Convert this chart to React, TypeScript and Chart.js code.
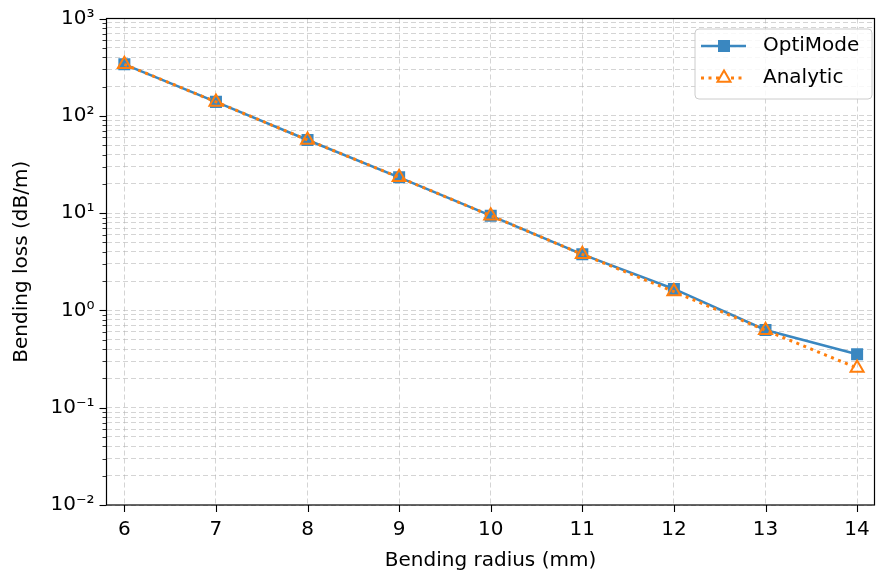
import React, { useEffect, useRef } from "react";
import { Chart, registerables } from "chart.js";

Chart.register(...registerables);

const radii = [6, 7, 8, 9, 10, 11, 12, 13, 14];
const optiModeLoss = [338, 139, 56.4, 23.3, 9.4, 3.77, 1.66, 0.629, 0.354];
const analyticLoss = [338, 139, 56.4, 23.3, 9.4, 3.77, 1.56, 0.625, 0.256];
const xTicks = [6, 7, 8, 9, 10, 11, 12, 13, 14];
const yExponents = [-2, -1, 0, 1, 2, 3];
const yMinorMultipliers = [2, 3, 4, 5, 6, 7, 8, 9];
const supMap: Record<string, string> = {
  "-": "\u207B", "0": "\u2070", "1": "\u00B9", "2": "\u00B2", "3": "\u00B3",
};
const FONT = "'DejaVu Sans', sans-serif";
const FS = 20;
const BLUE = "#3a87c0";
const ORANGE = "#ff7f0e";
const DOT = [3, 4.5];

function supLabel(exp: number): string {
  return "10" + String(exp).split("").map((c) => supMap[c] || c).join("");
}

function isPow10(v: number): number | null {
  const e = Math.round(Math.log10(v));
  return Math.abs(v - Math.pow(10, e)) < Math.pow(10, e) * 1e-6 ? e : null;
}

const decorPlugin = {
  id: "decor",
  afterDraw(chart: any) {
    const ctx = chart.ctx;
    const { left, right, top, bottom } = chart.chartArea;
    const xs = chart.scales.x;
    const ys = chart.scales.y;
    ctx.save();
    ctx.strokeStyle = "#000";
    ys.ticks.forEach((t: any) => {
      const major = isPow10(t.value) !== null;
      const py = Math.round(ys.getPixelForValue(t.value)) + 0.5;
      ctx.lineWidth = major ? 1.1 : 0.8;
      ctx.beginPath();
      ctx.moveTo(left, py);
      ctx.lineTo(left - (major ? 7 : 4), py);
      ctx.stroke();
    });
    xs.ticks.forEach((t: any) => {
      const px = Math.round(xs.getPixelForValue(t.value)) + 0.5;
      ctx.lineWidth = 1.1;
      ctx.beginPath();
      ctx.moveTo(px, bottom);
      ctx.lineTo(px, bottom + 7);
      ctx.stroke();
    });
    ctx.lineWidth = 1.2;
    ctx.strokeRect(left, top, right - left, bottom - top);

    // legend
    const bx = 695, by = 29, bw = 177, bh = 70, r = 4;
    ctx.beginPath();
    ctx.moveTo(bx + r, by);
    ctx.lineTo(bx + bw - r, by);
    ctx.quadraticCurveTo(bx + bw, by, bx + bw, by + r);
    ctx.lineTo(bx + bw, by + bh - r);
    ctx.quadraticCurveTo(bx + bw, by + bh, bx + bw - r, by + bh);
    ctx.lineTo(bx + r, by + bh);
    ctx.quadraticCurveTo(bx, by + bh, bx, by + bh - r);
    ctx.lineTo(bx, by + r);
    ctx.quadraticCurveTo(bx, by, bx + r, by);
    ctx.closePath();
    ctx.fillStyle = "rgba(255,255,255,0.85)";
    ctx.fill();
    ctx.strokeStyle = "#cccccc";
    ctx.lineWidth = 1;
    ctx.stroke();

    const y1 = 46, y2 = 78;
    ctx.strokeStyle = BLUE;
    ctx.lineWidth = 2.5;
    ctx.setLineDash([]);
    ctx.beginPath();
    ctx.moveTo(701, y1);
    ctx.lineTo(746, y1);
    ctx.stroke();
    ctx.fillStyle = BLUE;
    ctx.fillRect(724 - 6, y1 - 6, 12, 12);
    ctx.strokeStyle = ORANGE;
    ctx.lineWidth = 3;
    ctx.setLineDash(DOT);
    ctx.beginPath();
    ctx.moveTo(701, y2);
    ctx.lineTo(746, y2);
    ctx.stroke();
    ctx.setLineDash([]);
    ctx.fillStyle = "#fff";
    ctx.beginPath();
    const rr = 7.5;
    ctx.moveTo(724, y2 - rr);
    ctx.lineTo(724 + rr * 0.866, y2 + rr / 2);
    ctx.lineTo(724 - rr * 0.866, y2 + rr / 2);
    ctx.closePath();
    ctx.fill();
    ctx.lineWidth = 2;
    ctx.stroke();

    ctx.fillStyle = "#000";
    ctx.font = `${FS}px ${FONT}`;
    ctx.textBaseline = "middle";
    ctx.textAlign = "left";
    ctx.fillText("OptiMode", 763, y1);
    ctx.fillText("Analytic", 763, y2);
    ctx.restore();
  },
};

export default function App() {
  const ref = useRef<HTMLCanvasElement | null>(null);
  useEffect(() => {
    if (!ref.current) return;
    const yTickValues: number[] = [];
    yExponents.forEach((e) => {
      yTickValues.push(Math.pow(10, e));
      if (e < 3) yMinorMultipliers.forEach((m) => yTickValues.push(m * Math.pow(10, e)));
    });
    const chart = new Chart(ref.current, {
      type: "line",
      data: {
        datasets: [
          {
            label: "Analytic",
            data: radii.map((x, i) => ({ x, y: analyticLoss[i] })),
            borderColor: ORANGE,
            borderWidth: 3,
            borderDash: DOT,
            borderCapStyle: "butt",
            pointStyle: "triangle",
            pointRadius: 7.5,
            pointBackgroundColor: "rgba(0,0,0,0)",
            pointBorderColor: ORANGE,
            pointBorderWidth: 2,
            order: 0,
            tension: 0,
          },
          {
            label: "OptiMode",
            data: radii.map((x, i) => ({ x, y: optiModeLoss[i] })),
            borderColor: BLUE,
            borderWidth: 2.5,
            pointStyle: "rect",
            pointRadius: 8.5,
            pointBackgroundColor: BLUE,
            pointBorderColor: BLUE,
            pointBorderWidth: 0,
            order: 1,
            tension: 0,
          },
        ],
      },
      options: {
        animation: false,
        responsive: false,
        maintainAspectRatio: false,
        layout: { padding: { top: 18.5, right: 2, left: 0, bottom: 0 } },
        plugins: { legend: { display: false }, tooltip: { enabled: false } },
        scales: {
          x: {
            type: "linear",
            min: 5.805,
            max: 14.19,
            afterBuildTicks: (s: any) => {
              s.ticks = xTicks.map((v) => ({ value: v }));
            },
            afterFit: (s: any) => {
              s.height = 71;
              s.paddingLeft = 0;
              s.paddingRight = 0;
            },
            grid: { color: "rgba(176,176,176,0.55)", lineWidth: 1, drawTicks: false },
            border: { display: false, dash: [5, 3] },
            ticks: {
              autoSkip: false,
              maxRotation: 0,
              padding: 13,
              color: "#000",
              font: { family: FONT, size: FS },
              callback: (v: any) => String(v),
            },
            title: {
              display: true,
              text: "Bending radius (mm)",
              color: "#000",
              font: { family: FONT, size: FS },
              padding: { top: 0, bottom: 3 },
            },
          },
          y: {
            type: "logarithmic",
            min: 0.01,
            max: 1000,
            afterBuildTicks: (s: any) => {
              s.ticks = yTickValues.map((v) => ({ value: v }));
            },
            afterFit: (s: any) => {
              s.width = 106.5;
              s.paddingTop = 0;
              s.paddingBottom = 0;
            },
            grid: { color: "rgba(176,176,176,0.55)", lineWidth: 1, drawTicks: false },
            border: { display: false, dash: [5, 3] },
            ticks: {
              autoSkip: false,
              padding: 12,
              color: "#000",
              font: { family: FONT, size: FS },
              callback: (v: any) => {
                const e = isPow10(Number(v));
                return e === null ? "" : supLabel(e);
              },
            },
            title: {
              display: true,
              text: "Bending loss (dB/m)",
              color: "#000",
              font: { family: FONT, size: FS },
              padding: { top: 9.5, bottom: 0 },
            },
          },
        },
      },
      plugins: [decorPlugin],
    } as any);
    return () => chart.destroy();
  }, []);
  return (
    <div style={{ position: "absolute", left: 0, top: 0, width: 884, height: 576, background: "#fff" }}>
      <canvas ref={ref} width={884} height={576} style={{ width: 884, height: 576 }} />
    </div>
  );
}
